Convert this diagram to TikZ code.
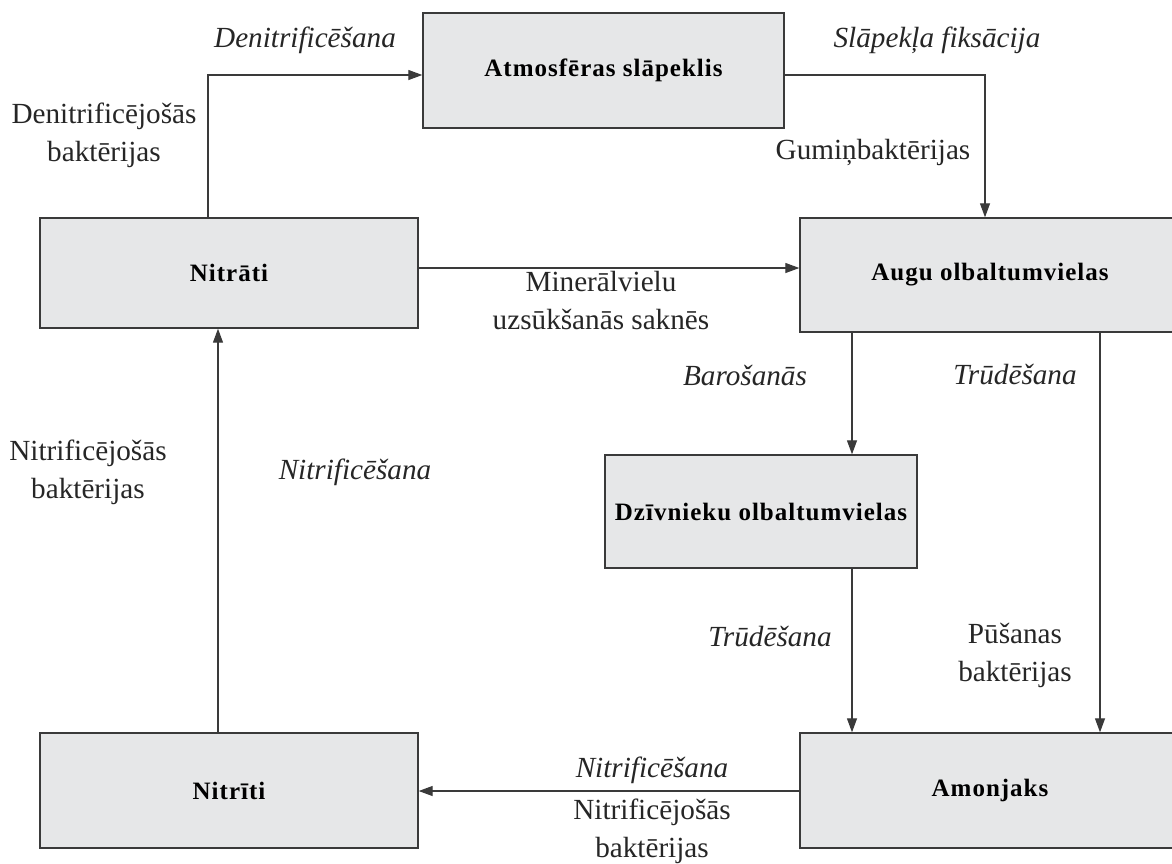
\documentclass[tikz,border=0pt]{standalone}
\usepackage{fontspec}
\setmainfont{Liberation Serif}
\usetikzlibrary{arrows.meta}
\definecolor{boxfill}{HTML}{E6E7E8}
\definecolor{boxline}{HTML}{3A3A3A}
\newfontfamily\boxfont[LetterSpace=4]{Liberation Serif}
\begin{document}
\begin{tikzpicture}[x=0.5pt,y=-0.5pt,
  box/.style={draw=boxline,fill=boxfill,line width=0.7pt,inner sep=0pt,
    font=\boxfont\fontsize{12.5}{15}\selectfont\bfseries},
  lbl/.style={font=\fontsize{14.6}{17}\selectfont,text=black!85,inner sep=0pt,align=center},
  ilbl/.style={lbl,font=\fontsize{14.6}{17}\selectfont\itshape},
  conn/.style={draw=boxline,line width=0.6pt},
  arr/.style={conn,-{Triangle[length=7pt,width=5pt]}}]
\clip (0,0) rectangle (1172,863);
\fill[white] (0,0) rectangle (1172,863);
% boxes
\node[box,minimum width=180.5pt,minimum height=57.5pt] (atm) at (603.5,70.5) {Atmosfēras slāpeklis};
\node[box,minimum width=189pt,minimum height=55pt] (nitrati) at (229,273) {Nitrāti};
\node[box,minimum width=190pt,minimum height=57pt] (augu) at (990,275) {Augu olbaltumvielas};
\node[box,minimum width=156pt,minimum height=56.5pt] (dziv) at (761,511.5) {Dzīvnieku olbaltumvielas};
\node[box,minimum width=190pt,minimum height=57.5pt] (amon) at (990,790.5) {Amonjaks};
\node[box,minimum width=189pt,minimum height=57.5pt] (nitriti) at (229,790.5) {Nitrīti};
% helper coordinates
\coordinate (c1) at (208,75);
\coordinate (c2) at (985,75);
\coordinate (c3) at (0,268);
\coordinate (c4) at (852,0);
\coordinate (c5) at (1100,0);
\coordinate (c6) at (0,791);
\coordinate (c7) at (218,0);
% connectors
\draw[arr] (nitrati.north -| c1) |- (atm.west |- c1);
\draw[arr] (atm.east |- c2) -| (augu.north -| c2);
\draw[arr] (nitrati.east |- c3) -- (augu.west |- c3);
\draw[arr] (augu.south -| c4) -- (dziv.north -| c4);
\draw[arr] (augu.south -| c5) -- (amon.north -| c5);
\draw[arr] (dziv.south -| c4) -- (amon.north -| c4);
\draw[arr] (amon.west |- c6) -- (nitriti.east |- c6);
\draw[arr] (nitriti.north -| c7) -- (nitrati.south -| c7);
% labels
\node[ilbl] (l1) at (305,40) {Denitrificēšana};
\node[lbl] (l2) at (104,135) {Denitrificējošās\\[2pt]baktērijas};
\node[ilbl] (l3) at (937,40) {Slāpekļa fiksācija};
\node[lbl] (l4) at (873,152) {Gumiņbaktērijas};
\node[lbl] (l5) at (601,301) {Minerālvielu\\[2pt]uzsūkšanās saknēs};
\node[ilbl] (l6) at (745,375) {Barošanās};
\node[ilbl] (l7) at (1015,375) {Trūdēšana};
\node[ilbl] (l8) at (770,637) {Trūdēšana};
\node[lbl] (l9) at (1015,655) {Pūšanas\\[2pt]baktērijas};
\node[ilbl] (l10) at (652,770) {Nitrificēšana};
\node[lbl] (l11) at (652,831) {Nitrificējošās\\[2pt]baktērijas};
\node[lbl] (l12) at (88,472) {Nitrificējošās\\[2pt]baktērijas};
\node[ilbl] (l13) at (355,472) {Nitrificēšana};
\end{tikzpicture}
\end{document}
